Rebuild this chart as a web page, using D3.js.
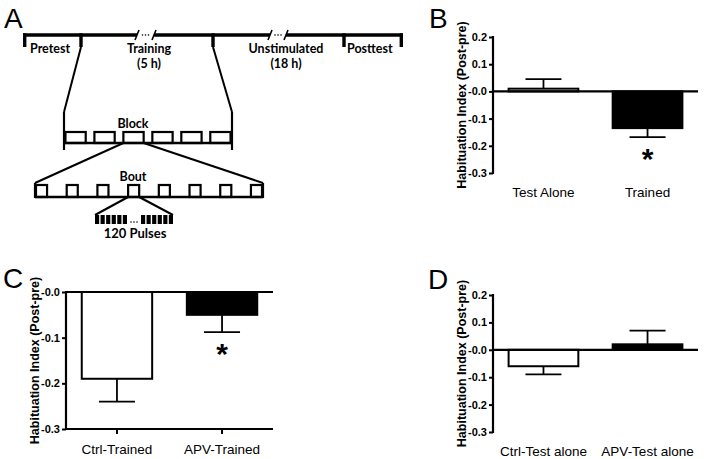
<!DOCTYPE html>
<html><head><meta charset="utf-8">
<script src="https://cdn.jsdelivr.net/npm/d3@7/dist/d3.min.js"></script>
<style>
html,body{margin:0;padding:0;background:#fff;}
svg{display:block;}
</style></head>
<body>
<svg id="fig" width="704" height="459"></svg>
<script>
// ---------- DATA ----------
const panelBCategories = ["Test Alone", "Trained"];
const panelBMeans = [0.01, -0.135];
const panelBErrors = [0.035, 0.033];
const panelBStars = [false, true];

const panelCCategories = ["Ctrl-Trained", "APV-Trained"];
const panelCMeans = [-0.19, -0.05];
const panelCErrors = [0.05, 0.038];
const panelCStars = [false, true];

const panelDCategories = ["Ctrl-Test alone", "APV-Test alone"];
const panelDMeans = [-0.06, 0.02];
const panelDErrors = [0.03, 0.05];
const panelDStars = [false, false];

const ticksBD = [0.2, 0.1, 0.0, -0.1, -0.2, -0.3];
const tickLabelsBD = ["0.2", "0.1", "-0.0", "-0.1", "-0.2", "-0.3"];
const ticksC = [0.0, -0.1, -0.2, -0.3];
const tickLabelsC = ["-0.0", "-0.1", "-0.2", "-0.3"];
const yTitle = "Habituation Index (Post-pre)";

// Panel A schematic
const timelineLabels = ["Pretest", "Training", "Unstimulated", "Posttest"];
const timelineSubLabels = ["", "(5 h)", "(18 h)", ""];
const blockLabel = "Block", boutLabel = "Bout", pulseLabel = "120 Pulses";
const blocksPerTraining = 6, boutsPerBlock = 8, pulsesShownPerSide = 6;

// ---------- DRAW ----------
const svg = d3.select("#fig");
const sans = "'Liberation Sans', Arial, sans-serif";
const diag = "Lato, 'Open Sans', sans-serif";

// Panel letters
[["A",4,28],["B",429,28],["C",3,288],["D",428,289]].forEach(([t,x,y])=>{
  svg.append("text").attr("x",x).attr("y",y).text(t)
    .attr("font-family",sans).attr("font-size",28).attr("fill","#000");
});

// ---------- Panel A ----------
const gA = svg.append("g");
const line = (x1,y1,x2,y2,w=2)=>gA.append("line").attr("x1",x1).attr("y1",y1).attr("x2",x2).attr("y2",y2)
  .attr("stroke","#000").attr("stroke-width",w);
const dots = (cx,cy)=>[-3,0,3].forEach(d=>gA.append("circle").attr("cx",cx+d).attr("cy",cy).attr("r",0.8).attr("fill","#000"));
const tlY = 35;
// segments of timeline (with breaks)
[[23,137],[154,270],[286,403]].forEach(([a,b])=>line(a,tlY,b,tlY,3.4));
// break marks
[[137,154],[270,286]].forEach(([a,b])=>{
  line(a-2,tlY+5,a+2,tlY-5,1.6);
  line(b-2,tlY+5,b+2,tlY-5,1.6);
  dots((a+b)/2, tlY);
});
// ticks
[24.7,81,213,344,401.3].forEach(x=>line(x,tlY-1.7,x,47,3.4));
// labels
const tlX = [30,149,286,347], tlAnchor=["start","middle","middle","start"];
timelineLabels.forEach((t,i)=>{
  gA.append("text").attr("x",tlX[i]).attr("y",52.5).attr("text-anchor",tlAnchor[i])
    .attr("font-family",diag).attr("font-weight","bold").attr("font-size",12.5).text(t);
  if(timelineSubLabels[i]) gA.append("text").attr("x",tlX[i]).attr("y",67.6).attr("text-anchor","middle")
    .attr("font-family",diag).attr("font-weight","bold").attr("font-size",12.5).text(timelineSubLabels[i]);
});
// zoom lines to block
line(81,47,64,112); line(64,112,64,150,2.2);
line(213,47,232,112); line(232,112,232,150,2.2);
// block
const blockX = d3.scaleBand().domain(d3.range(blocksPerTraining)).range([64,232]).paddingInner(0.3).paddingOuter(0.05);
line(64,143,232,143,2.6);
blockX.domain().forEach(i=>{
  gA.append("rect").attr("x",blockX(i)).attr("y",132).attr("width",blockX.bandwidth()).attr("height",11)
    .attr("fill","none").attr("stroke","#000").attr("stroke-width",2.2);
});
gA.append("text").attr("x",133).attr("y",128).attr("text-anchor","middle")
  .attr("font-family",diag).attr("font-weight","bold").attr("font-size",12.5).text(blockLabel);
// lines to bout
const b3 = blockX(2);
line(b3,143,35,183); line(b3+blockX.bandwidth(),143,263,183);
// bout
line(35,197,263,197,2.6);
line(35,183,35,198,2.2); line(263,183,263,198,2.2);
const boutX = d3.scaleBand().domain(d3.range(boutsPerBlock)).range([36,262]).paddingInner(0.64).paddingOuter(0);
boutX.domain().forEach(i=>{
  gA.append("rect").attr("x",boutX(i)).attr("y",185).attr("width",boutX.bandwidth()).attr("height",12)
    .attr("fill","none").attr("stroke","#000").attr("stroke-width",2.2);
});
gA.append("text").attr("x",133).attr("y",181).attr("text-anchor","middle")
  .attr("font-family",diag).attr("font-weight","bold").attr("font-size",12.5).text(boutLabel);
// lines to pulses
const bo4 = boutX(3);
line(bo4,197,95,215); line(bo4+boutX.bandwidth(),197,173,215);
const pulL = d3.scaleBand().domain(d3.range(pulsesShownPerSide)).range([95,127]).paddingInner(0.25);
const pulR = d3.scaleBand().domain(d3.range(pulsesShownPerSide)).range([141,173]).paddingInner(0.25);
[pulL,pulR].forEach(s=>s.domain().forEach(i=>{
  gA.append("rect").attr("x",s(i)).attr("y",215).attr("width",s.bandwidth()).attr("height",9).attr("fill","#000");
}));
dots(134, 222);
gA.append("text").attr("x",135).attr("y",238).attr("text-anchor","middle")
  .attr("font-family",diag).attr("font-weight","bold").attr("font-size",13).text(pulseLabel);

// ---------- Bar panels ----------
function barPanel(opt){
  const g = svg.append("g");
  const y = d3.scaleLinear().domain(opt.domain).range([opt.yBottom, opt.yTop]);
  const x = d3.scaleBand().domain(opt.cats).range([opt.xAxis, opt.xEnd]).paddingInner(0.33).paddingOuter(0.15);
  // y axis
  const ax = d3.axisLeft(y).tickValues(opt.ticks).tickFormat((d,i)=>opt.tickLabels[i]).tickSize(4).tickPadding(2).tickSizeOuter(0);
  const ag = g.append("g").attr("transform",`translate(${opt.xAxis},0)`).call(ax);
  ag.select(".domain").attr("stroke-width",2.2).attr("d",`M0,${opt.yBottom+1}V${opt.yTop-1}`);
  ag.selectAll(".tick line").attr("stroke-width",2);
  ag.selectAll(".tick text").attr("font-family",sans).attr("font-weight","bold").attr("font-size",11).attr("fill","#000");
  // y title
  g.append("text").attr("transform",`translate(${opt.titleX},${(opt.yTop+opt.yBottom)/2}) rotate(-90)`)
    .attr("text-anchor","middle").attr("font-family",sans).attr("font-weight","bold").attr("font-size",12.5).text(yTitle);
  // bars
  opt.means.forEach((v,i)=>{
    const c = opt.cats[i];
    const top = y(Math.max(0,v)), bot = y(Math.min(0,v));
    const cx = x(c)+x.bandwidth()/2;
    const endV = v + (v>=0?1:-1)*opt.errs[i];
    const yEnd = y(endV);
    g.append("line").attr("x1",cx).attr("x2",cx).attr("y1",y(v)).attr("y2",yEnd).attr("stroke","#000").attr("stroke-width",1.8);
    g.append("line").attr("x1",cx-18).attr("x2",cx+18).attr("y1",yEnd).attr("y2",yEnd).attr("stroke","#000").attr("stroke-width",1.8);
    g.append("rect").attr("x",x(c)).attr("y",top).attr("width",x.bandwidth()).attr("height",Math.max(1,bot-top))
      .attr("fill", i===0?"#fff":"#000").attr("stroke","#000").attr("stroke-width",2);
    if(opt.stars[i]){
      g.append("text").attr("x",cx).attr("y",yEnd+32).attr("text-anchor","middle")
        .attr("font-family",sans).attr("font-weight","bold").attr("font-size",30).text("*");
    }
    g.append("text").attr("x",cx).attr("y",opt.labelY).attr("text-anchor","middle")
      .attr("font-family",sans).attr("font-size",13.5).text(c);
  });
  // zero line
  g.append("line").attr("x1",opt.xAxis).attr("x2",opt.xEnd).attr("y1",y(0)).attr("y2",y(0)).attr("stroke","#000").attr("stroke-width",2.2);
  if(opt.bottomAxis){
    const bx = d3.axisBottom(x).tickSize(5).tickSizeOuter(0).tickFormat("");
    const bg = g.append("g").attr("transform",`translate(0,${opt.yBottom})`).call(bx);
    bg.select(".domain").attr("stroke-width",2.2).attr("d",`M${opt.xAxis},0H${opt.xEnd}`);
    bg.selectAll(".tick line").attr("stroke-width",2);
  }
}

barPanel({cats:panelBCategories, means:panelBMeans, errs:panelBErrors, stars:panelBStars,
  domain:[-0.3,0.2], yBottom:173, yTop:37, xAxis:493, xEnd:698, ticks:ticksBD, tickLabels:tickLabelsBD,
  titleX:466, labelY:197, bottomAxis:false});
barPanel({cats:panelCCategories, means:panelCMeans, errs:panelCErrors, stars:panelCStars,
  domain:[-0.3,0], yBottom:429, yTop:292, xAxis:66, xEnd:273, ticks:ticksC, tickLabels:tickLabelsC,
  titleX:39, labelY:454, bottomAxis:true});
barPanel({cats:panelDCategories, means:panelDMeans, errs:panelDErrors, stars:panelDStars,
  domain:[-0.3,0.2], yBottom:432, yTop:295, xAxis:493, xEnd:698, ticks:ticksBD, tickLabels:tickLabelsBD,
  titleX:466, labelY:456, bottomAxis:false});
</script>
</body></html>
